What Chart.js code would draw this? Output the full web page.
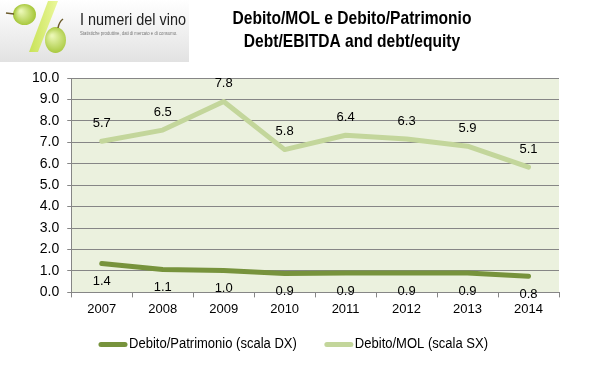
<!DOCTYPE html>
<html>
<head>
<meta charset="utf-8">
<script src="https://cdn.jsdelivr.net/npm/chart.js@4/dist/chart.umd.min.js"></script>
<style>
  html, body { margin: 0; padding: 0; background: #fff; }
  #wrap { width: 599px; height: 368px; position: relative; }
</style>
</head>
<body>
<div id="wrap"><canvas id="debitoChart"></canvas></div>
<script>
const anni = ['2007', '2008', '2009', '2010', '2011', '2012', '2013', '2014'];
const patrimonio = [1.35, 1.07, 1.02, 0.88, 0.9, 0.9, 0.9, 0.75];
const patrimonioLabels = ['1.4', '1.1', '1.0', '0.9', '0.9', '0.9', '0.9', '0.8'];
// Debito/MOL: posizione della linea sul grafico e etichetta mostrata
const mol = [7.05, 7.57, 8.9, 6.66, 7.33, 7.15, 6.82, 5.84];
const molLabels = ['5.7', '6.5', '7.8', '5.8', '6.4', '6.3', '5.9', '5.1'];

const scuro = '#77933C';
const chiaro = '#C3D69B';
const FONT = '"Liberation Sans", Arial, sans-serif';

// testo "stretto": schiaccia in orizzontale
function testoStretto(ctx, txt, x, y, sx) {
    ctx.save();
    ctx.translate(x, y);
    ctx.scale(sx, 1);
    ctx.fillText(txt, 0, 0);
    ctx.restore();
}

const sfondoPlot = {
    id: 'sfondoPlot',
    beforeDraw(chart) {
        const { ctx, chartArea: a } = chart;
        ctx.save();
        ctx.fillStyle = '#EBF1DE';
        ctx.fillRect(a.left, a.top, a.right - a.left, a.bottom - a.top);
        ctx.restore();
    }
};

const etichette = {
    id: 'etichette',
    afterDatasetsDraw(chart) {
        const ctx = chart.ctx;
        ctx.save();
        ctx.font = '13px ' + FONT;
        ctx.fillStyle = '#000';
        ctx.textAlign = 'center';
        ctx.textBaseline = 'middle';
        chart.data.datasets.forEach((ds, i) => {
            const meta = chart.getDatasetMeta(i);
            meta.data.forEach((pt, j) => {
                const dy = ds.labelPos === 'below' ? 18 : -18;
                ctx.fillText(ds.valueLabels[j], pt.x, pt.y + dy);
            });
        });
        ctx.restore();
    }
};

const legenda = {
    id: 'legenda',
    afterDraw(chart) {
        const ctx = chart.ctx;
        const y = chart.chartArea.bottom + 52;
        const sx = 0.93;
        ctx.save();
        ctx.font = '14px ' + FONT;
        ctx.textBaseline = 'middle';
        ctx.textAlign = 'left';
        const items = chart.data.datasets.map(ds => ({
            label: ds.label, color: ds.borderColor,
            w: ctx.measureText(ds.label).width * sx
        }));
        const sample = 28, gap = 2, spacing = 28;
        const total = items.reduce((s, it) => s + sample + gap + it.w, 0) + spacing * (items.length - 1);
        let x = chart.width / 2 - 6 - total / 2;
        items.forEach(it => {
            ctx.strokeStyle = it.color;
            ctx.lineWidth = 5;
            ctx.lineCap = 'round';
            ctx.beginPath();
            ctx.moveTo(x + 2, y);
            ctx.lineTo(x + sample - 2, y);
            ctx.stroke();
            ctx.fillStyle = '#000';
            testoStretto(ctx, it.label, x + sample + gap, y, sx);
            x += sample + gap + it.w + spacing;
        });
        ctx.restore();
    }
};

const testata = {
    id: 'testata',
    afterDraw(chart) {
        const ctx = chart.ctx;
        ctx.save();
        // logo
        const g = ctx.createLinearGradient(0, 0, 0, 62);
        g.addColorStop(0, '#ffffff');
        g.addColorStop(1, '#e2e2e2');
        ctx.fillStyle = g;
        ctx.fillRect(0, 0, 189, 62);
        // barra della percentuale
        const gb = ctx.createLinearGradient(30, 0, 60, 0);
        gb.addColorStop(0, '#c9e35a');
        gb.addColorStop(1, '#eef9a0');
        ctx.fillStyle = gb;
        ctx.beginPath();
        ctx.moveTo(48, 1); ctx.lineTo(58, 1); ctx.lineTo(38, 52); ctx.lineTo(29, 52);
        ctx.closePath();
        ctx.fill();
        const acino = (x, y, rx, ry) => {
            const rg = ctx.createRadialGradient(x - rx / 3, y - ry / 3, 1, x, y, ry);
            rg.addColorStop(0, '#eaf7b4');
            rg.addColorStop(1, '#a9c93f');
            ctx.fillStyle = rg;
            ctx.beginPath();
            ctx.ellipse(x, y, rx, ry, 0, 0, Math.PI * 2);
            ctx.fill();
        };
        acino(24.5, 14.5, 11.5, 10.5);
        acino(55.5, 40, 10.5, 13);
        ctx.strokeStyle = '#6b5a2a';
        ctx.lineWidth = 1.5;
        ctx.beginPath(); ctx.moveTo(6, 13); ctx.lineTo(14, 14); ctx.stroke();
        ctx.beginPath(); ctx.moveTo(58, 28); ctx.quadraticCurveTo(59, 22, 63, 19); ctx.stroke();
        ctx.fillStyle = '#222';
        ctx.textBaseline = 'middle';
        ctx.textAlign = 'left';
        ctx.font = '17px ' + FONT;
        testoStretto(ctx, 'I numeri del vino', 80, 20, 0.85);
        ctx.fillStyle = '#777';
        ctx.font = '5px ' + FONT;
        testoStretto(ctx, 'Statistiche produttive, dati di mercato e di consumo.', 80, 34, 0.85);
        // titolo
        ctx.fillStyle = '#000';
        ctx.textAlign = 'center';
        ctx.font = 'bold 19px ' + FONT;
        testoStretto(ctx, 'Debito/MOL e Debito/Patrimonio', 352, 19, 0.82);
        testoStretto(ctx, 'Debt/EBITDA and debt/equity', 352, 42, 0.82);
        ctx.restore();
    }
};

new Chart(document.getElementById('debitoChart'), {
    type: 'line',
    data: {
        labels: anni,
        datasets: [
            {
                label: 'Debito/Patrimonio (scala DX)',
                data: patrimonio,
                valueLabels: patrimonioLabels,
                labelPos: 'below',
                borderColor: scuro,
                backgroundColor: scuro,
                borderWidth: 5,
                borderCapStyle: 'round',
                borderJoinStyle: 'round',
                pointRadius: 0,
                tension: 0
            },
            {
                label: 'Debito/MOL (scala SX)',
                data: mol,
                valueLabels: molLabels,
                labelPos: 'above',
                borderColor: chiaro,
                backgroundColor: chiaro,
                borderWidth: 5,
                borderCapStyle: 'round',
                borderJoinStyle: 'round',
                pointRadius: 0,
                tension: 0
            }
        ]
    },
    options: {
        responsive: true,
        maintainAspectRatio: false,
        animation: false,
        layout: { padding: { left: 24, right: 40, top: 78, bottom: 47 } },
        scales: {
            x: {
                offset: true,
                grid: { drawOnChartArea: false, drawTicks: true, tickLength: 5, offset: true, color: '#868686' },
                border: { color: '#868686' },
                ticks: { color: '#000', padding: 4, font: { family: FONT, size: 13 } }
            },
            y: {
                min: 0,
                max: 10,
                ticks: {
                    stepSize: 1,
                    color: '#000',
                    padding: 8,
                    font: { family: FONT, size: 14 },
                    callback: v => v.toFixed(1)
                },
                grid: { color: '#868686', tickLength: 4 },
                border: { color: '#868686' }
            }
        },
        plugins: {
            legend: { display: false },
            tooltip: { enabled: false }
        }
    },
    plugins: [sfondoPlot, etichette, legenda, testata]
});
</script>
</body>
</html>
